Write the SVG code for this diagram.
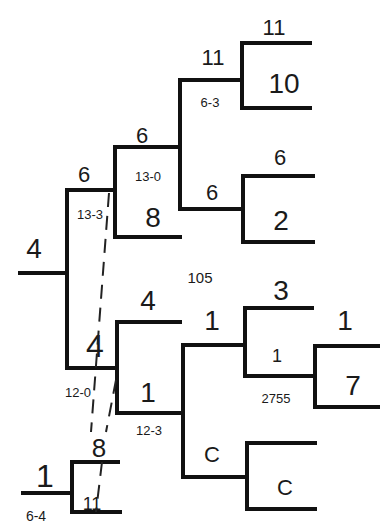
<svg xmlns="http://www.w3.org/2000/svg" width="388" height="525" viewBox="0 0 388 525">
<style>
.br{fill:none;stroke:#111;stroke-width:4;stroke-linecap:square;stroke-linejoin:miter}
.dash{fill:none;stroke:#222;stroke-width:2;stroke-dasharray:14 9}
text{font-family:"Liberation Sans","DejaVu Sans",sans-serif;fill:#1a1a1a;text-anchor:middle}
.b{font-size:28px}
.m{font-size:22px}
.s{font-size:13px}
.p{font-size:15px}
</style>
<rect width="388" height="525" fill="#fff"/>
<g id="root"><path class="br" d="M20,273H67"/><text class="b" x="34" y="258">4</text></g>
<g id="b1"><path class="br" d="M115,190H67V368H117"/><text class="m" x="84" y="182">6</text><text class="s" x="90" y="219">13-3</text><text x="95" y="357" style="font-size:32px">4</text><text class="s" x="78" y="397">12-0</text></g>
<g id="b2"><path class="br" d="M180,147H115V237H180"/><text class="m" x="142" y="143">6</text><text class="s" x="148" y="181">13-0</text><text class="b" x="153" y="227">8</text></g>
<g id="b3"><path class="br" d="M242,80H180V209H243"/><text class="m" x="213" y="65">11</text><text class="s" x="210" y="107">6-3</text><text class="m" x="212" y="200">6</text></g>
<g id="b4"><path class="br" d="M310,43H242V108H310"/><text class="m" x="274" y="35">11</text><text class="b" x="284" y="93">10</text></g>
<g id="b5"><path class="br" d="M313,176H243V242H313"/><text class="m" x="280" y="165">6</text><text class="b" x="281" y="230">2</text></g>
<g id="b6"><path class="br" d="M180,322H117V413H183"/><text class="b" x="148" y="310">4</text><text class="b" x="148" y="402">1</text><text class="s" x="149" y="435">12-3</text></g>
<g id="b7"><path class="br" d="M245,345H183V477H247"/><text class="b" x="212" y="330">1</text><text class="m" x="212" y="462">C</text></g>
<g id="b8"><path class="br" d="M312,308H245V376H315"/><text class="b" x="281" y="300">3</text><text style="font-size:18px" x="277" y="362">1</text><text class="s" x="276" y="403">2755</text></g>
<g id="b9"><path class="br" d="M378,346H315V407H378"/><text class="b" x="345" y="330">1</text><text class="b" x="353" y="395">7</text></g>
<g id="b10"><path class="br" d="M315,443H247V509H315"/><text class="m" x="285" y="495">C</text></g>
<g id="b11"><path class="br" d="M23,493H72"/><path class="br" d="M118,462H72V512H120"/><text x="45" y="487" style="font-size:32px">1</text><text class="s" x="36" y="521" style="font-size:14px">6-4</text><text class="b" x="99" y="457" style="font-size:26px">8</text><text x="92" y="510" style="font-size:18px">11</text></g>
<g id="label105"><text class="p" x="200" y="283">105</text></g>
<g id="connectors">
<path class="dash" d="M109,193L91,432"/>
<path class="dash" d="M116,380L106,432"/>
<path class="dash" d="M102,462L96,512"/>
</g>
</svg>
